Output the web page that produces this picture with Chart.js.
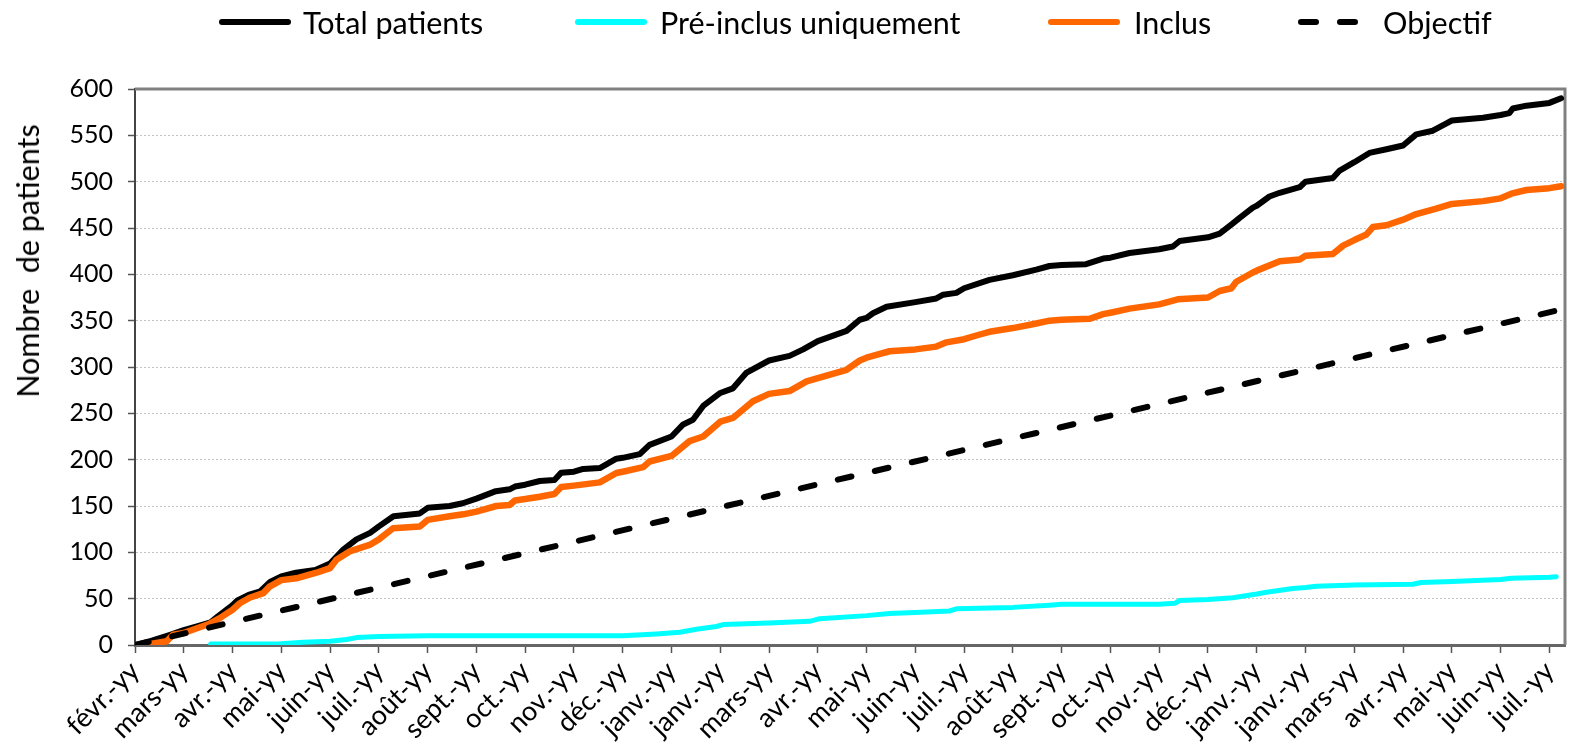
<!DOCTYPE html>
<html lang="fr">
<head>
<meta charset="utf-8">
<title>Nombre de patients</title>
<script src="https://cdn.jsdelivr.net/npm/chart.js@4.4.1/dist/chart.umd.min.js"></script>
<style>
    html, body { margin: 0; padding: 0; background: #fff; }
    #wrap { position: relative; width: 1593px; height: 743px; overflow: hidden; }
    #chart { position: absolute; left: 0; top: 0; }
    .legend-swatch { position: absolute; height: 6px; border-radius: 3px; }
    .legend-text {
        position: absolute; top: 3px; height: 38px; line-height: 38px;
        font-family: Lato, sans-serif; font-size: 30.5px; color: #000; white-space: pre;
    }
    #yTitle {
        position: absolute; left: 27px; top: 261px;
        transform: translate(-50%, -50%) rotate(-90deg);
        font-family: Lato, sans-serif; font-size: 30.5px; color: #000; white-space: pre;
    }
</style>
</head>
<body>
<div id="wrap">
    <canvas id="chart" width="1593" height="743"></canvas>
    <div id="yTitle">Nombre  de patients</div>
</div>
<script>
// x axis tick labels (one per month)
const monthLabels = ['févr.-yy', 'mars-yy', 'avr.-yy', 'mai-yy', 'juin-yy', 'juil.-yy', 'août-yy', 'sept.-yy',
    'oct.-yy', 'nov.-yy', 'déc.-yy', 'janv.-yy', 'janv.-yy', 'mars-yy', 'avr.-yy', 'mai-yy', 'juin-yy',
    'juil.-yy', 'août-yy', 'sept.-yy', 'oct.-yy', 'nov.-yy', 'déc.-yy', 'janv.-yy', 'janv.-yy', 'mars-yy',
    'avr.-yy', 'mai-yy', 'juin-yy', 'juil.-yy'];

// Total patients (x = months since first tick)
const totalMonth = [0, 0.3, 0.72, 1, 1.27, 1.55, 1.7, 1.9, 2, 2.1, 2.33, 2.57, 2.77, 3, 3.3, 3.7, 4, 4.27, 4.54,
    4.82, 5, 5.3, 5.84, 6, 6.45, 6.72, 7, 7.4, 7.68, 7.79, 8, 8.3, 8.6, 8.74, 9, 9.19, 9.53, 9.87, 10, 10.35,
    10.55, 11, 11.24, 11.44, 11.65, 12, 12.26, 12.54, 13, 13.42, 13.7, 14, 14.59, 14.86, 15, 15.13, 15.41, 16,
    16.43, 16.57, 16.84, 17, 17.52, 18, 18.48, 18.75, 19, 19.5, 19.85, 20, 20.39, 21, 21.28, 21.42, 22, 22.24,
    22.51, 22.65, 22.92, 23, 23.26, 23.47, 23.88, 24, 24.56, 24.7, 25, 25.31, 25.66, 26, 26.27, 26.61, 26.89,
    27, 27.64, 28, 28.18, 28.25, 28.53, 29, 29.24];
const totalValues = [0, 4, 11, 16, 20, 24.5, 31, 39, 43, 48, 54, 58, 68, 74, 78, 81, 88, 103, 114,
    121, 128, 139, 142, 148, 150, 153, 158, 166, 168, 171, 173, 177, 178, 186, 187, 190, 191, 201, 202, 206,
    216, 225, 238, 243, 258, 272, 277, 294, 307, 312, 319, 328, 339, 351, 353, 358, 365, 370,
    374, 378, 380, 385, 394, 399, 405, 409, 410, 411, 417, 418, 423, 427, 430, 436, 440, 444,
    455, 461, 472, 474, 484, 488, 494, 500, 504, 512, 521, 531, 535, 539, 551, 555, 563,
    566, 569, 572, 574, 579, 582, 585, 590];

// Pré-inclus uniquement
const preMonth = [1.55, 3, 3.45, 4, 4.34, 4.54, 5, 6, 10, 10.69, 11.17, 11.51, 11.92, 12.06, 13, 13.83, 14.04,
    15, 15.47, 16, 16.7, 16.84, 18, 18.75, 19, 21, 21.32, 21.42, 22, 22.51, 23, 23.2, 23.74, 24, 24.22, 25,
    26.2, 26.37, 27, 28, 28.22, 29, 29.14];
const preValues = [1, 1.4, 3, 4, 6, 8, 9.3, 10, 10, 12, 13.7, 17, 20, 22, 23.7, 25.5, 28.4,
    31.7, 34, 35, 36.7, 39, 40.6, 43, 44, 44, 45, 48, 49, 51, 55, 57, 61, 62, 63.5, 64.7,
    65.5, 67.5, 68.6, 70.6, 72, 73, 73.7];

// Inclus
const inclMonth = [0.2, 0.65, 0.78, 1, 1.53, 1.74, 1.94, 2, 2.15, 2.35, 2.63, 2.76, 3, 3.31, 3.72, 4, 4.13, 4.4,
    4.81, 5, 5.29, 5.84, 6, 6.45, 6.73, 7, 7.41, 7.68, 7.79, 8, 8.3, 8.6, 8.74, 9, 9.53, 9.87, 10, 10.42, 10.55,
    11, 11.37, 11.65, 12, 12.26, 12.67, 13, 13.42, 13.77, 14, 14.59, 14.86, 15, 15.2, 15.47, 16, 16.43, 16.64,
    17, 17.25, 17.52, 18, 18.48, 18.75, 19, 19.57, 19.85, 20, 20.39, 21, 21.38, 22, 22.24, 22.48, 22.58, 22.92,
    23, 23.47, 23.88, 24, 24.56, 24.77, 25, 25.25, 25.38, 25.66, 26, 26.27, 26.68, 27, 27.64, 28, 28.22, 28.53,
    29, 29.24];
const inclValues = [0, 4, 11, 13, 23, 29, 36, 38, 45, 51, 56, 63, 70, 72, 78, 83, 92, 101,
    108, 114, 126, 128, 135, 139, 141, 144, 150, 151, 156, 157.5, 160, 163, 170.5, 172, 175.5, 185.6, 187, 192, 198,
    204, 220, 225, 241, 245, 263, 271, 274, 284.5, 288, 297, 307, 310, 313, 317, 319, 322, 326.6,
    330, 334, 338, 342, 347, 350, 351, 352, 357, 358.6, 363, 367.6, 373, 375, 382, 385, 392, 402,
    404, 414, 416, 420, 422, 431, 437, 443, 451, 453, 459, 465, 471, 476, 479, 482, 487, 491,
    493, 495];

// Objectif
const goalMonth = [0, 29.24];
const goalValues = [0, 362];

const seriesNames = ['Total patients', 'Pré-inclus uniquement', 'Inclus', 'Objectif'];
const seriesColors = ['#000000', '#00ffff', '#ff6600', '#000000'];

function toPoints(xs, ys) {
    return xs.map((x, i) => ({ x: x, y: ys[i] }));
}

// legend drawn as html above the canvas
const legendSwatchLeft = [219, 575, 1048, 1298];
const legendTextLeft = [303, 660, 1134, 1383];
const wrap = document.getElementById('wrap');
seriesNames.forEach((name, i) => {
    if (i === 3) {
        [0, 39].forEach(dx => {
            const d = document.createElement('div');
            d.className = 'legend-swatch';
            d.style.cssText = `left:${legendSwatchLeft[i] + dx}px;top:19px;width:21px;background:${seriesColors[i]}`;
            wrap.appendChild(d);
        });
    } else {
        const s = document.createElement('div');
        s.className = 'legend-swatch';
        s.style.cssText = `left:${legendSwatchLeft[i]}px;top:19px;width:72px;background:${seriesColors[i]}`;
        wrap.appendChild(s);
    }
    const t = document.createElement('div');
    t.className = 'legend-text';
    t.style.left = legendTextLeft[i] + 'px';
    t.textContent = name;
    wrap.appendChild(t);
});

// grey frame on top and right of the plot
const framePlugin = {
    id: 'frame',
    beforeDatasetsDraw(chart) {
        const a = chart.chartArea;
        const ctx = chart.ctx;
        ctx.save();
        ctx.strokeStyle = '#808080';
        ctx.lineWidth = 3;
        ctx.beginPath();
        ctx.moveTo(a.left, a.top);
        ctx.lineTo(a.right, a.top);
        ctx.lineTo(a.right, a.bottom);
        ctx.stroke();
        ctx.restore();
    }
};

function buildChart() {
    const ctx = document.getElementById('chart').getContext('2d');
    new Chart(ctx, {
        type: 'line',
        data: {
            datasets: [
                {
                    label: seriesNames[3], data: toPoints(goalMonth, goalValues),
                    borderColor: seriesColors[3], borderWidth: 6, borderDash: [14, 24],
                    borderCapStyle: 'round', pointRadius: 0, order: 1
                },
                {
                    label: seriesNames[2], data: toPoints(inclMonth, inclValues),
                    borderColor: seriesColors[2], borderWidth: 6.5, borderCapStyle: 'round',
                    borderJoinStyle: 'round', pointRadius: 0, order: 2
                },
                {
                    label: seriesNames[0], data: toPoints(totalMonth, totalValues),
                    borderColor: seriesColors[0], borderWidth: 6, borderCapStyle: 'round',
                    borderJoinStyle: 'round', pointRadius: 0, order: 3
                },
                {
                    label: seriesNames[1], data: toPoints(preMonth, preValues),
                    borderColor: seriesColors[1], borderWidth: 5, borderCapStyle: 'round',
                    borderJoinStyle: 'round', pointRadius: 0, order: 4
                }
            ]
        },
        options: {
            responsive: false,
            animation: false,
            layout: { padding: { top: 89, right: 28, left: 0, bottom: 0 } },
            plugins: {
                legend: { display: false },
                tooltip: { enabled: false }
            },
            scales: {
                x: {
                    type: 'linear',
                    min: 0,
                    max: 29.32,
                    afterFit: s => { s.height = 98; },
                    grid: { drawOnChartArea: false, drawTicks: true, tickLength: 8, tickColor: '#555', tickWidth: 1.5 },
                    border: { color: '#666', width: 3 },
                    ticks: {
                        stepSize: 1,
                        autoSkip: false,
                        includeBounds: false,
                        maxRotation: 45,
                        minRotation: 45,
                        padding: 2,
                        color: '#000',
                        font: { family: 'Lato', size: 27 },
                        callback: v => Number.isInteger(v) ? monthLabels[v] : ''
                    }
                },
                y: {
                    min: 0,
                    max: 600,
                    afterFit: s => { s.width = 135; },
                    grid: { color: '#c4c4c4', lineWidth: 1, tickColor: '#555', tickLength: 7, tickWidth: 1.5 },
                    border: { color: '#444', width: 2, dash: [2, 2] },
                    ticks: {
                        stepSize: 50,
                        padding: 15,
                        color: '#000',
                        font: { family: 'Lato', size: 25 }
                    }
                }
            }
        },
        plugins: [framePlugin]
    });
}

if (document.fonts && document.fonts.load) {
    Promise.all([document.fonts.load('27px Lato'), document.fonts.load('30px Lato')])
        .then(buildChart, buildChart);
} else {
    buildChart();
}
</script>
</body>
</html>
